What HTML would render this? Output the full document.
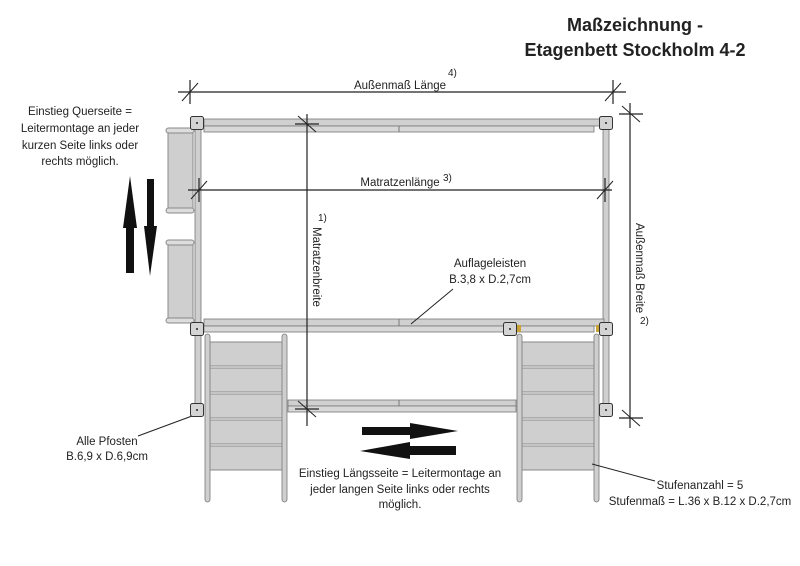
<!DOCTYPE html>
<html><head><meta charset="utf-8"><style>
html,body{margin:0;padding:0;background:#fff;}
svg{display:block;}
text{font-family:"Liberation Sans",sans-serif;fill:#222;}
</style></head><body>
<svg width="800" height="566" viewBox="0 0 800 566" xmlns="http://www.w3.org/2000/svg">
<defs>
<g id="post"><rect x="-6.5" y="-6.5" width="13" height="13" rx="2" fill="#d4d4d4" stroke="#333" stroke-width="1"/><circle cx="0" cy="0" r="1" fill="#222"/></g>
<g id="tick"><line x1="0" y1="-12" x2="0" y2="12" stroke="#222" stroke-width="1.2"/><line x1="-8" y1="9" x2="8" y2="-9" stroke="#222" stroke-width="1"/></g>
<g id="step"><rect x="0" y="0" width="72" height="24" fill="#cfcfcf" stroke="#888" stroke-width="1"/></g>
</defs>
<text x="635" y="31" font-size="18" font-weight="bold" text-anchor="middle">Maßzeichnung -</text>
<text x="635" y="56" font-size="18" font-weight="bold" text-anchor="middle">Etagenbett Stockholm 4-2</text>

<!-- Left info text -->
<g font-size="11.5" text-anchor="middle">
<text x="80" y="115">Einstieg Querseite =</text>
<text x="80" y="132">Leitermontage an jeder</text>
<text x="80" y="149">kurzen Seite links oder</text>
<text x="80" y="165">rechts möglich.</text>
</g>

<!-- vertical arrows -->
<polygon points="126,273 134,273 134,228 137,228 130,176 123,228 126,228" fill="#111"/>
<polygon points="147,179 154,179 154,226 157,226 150,276 144,226 147,226" fill="#111"/>

<!-- short-side ladder panels -->
<rect x="168" y="131" width="25" height="80" fill="#cfcfcf" stroke="#888"/>
<rect x="166" y="128" width="28" height="5" rx="2.5" fill="#ddd" stroke="#888"/>
<rect x="166" y="208" width="28" height="5" rx="2.5" fill="#ddd" stroke="#888"/>
<rect x="168" y="243" width="25" height="78" fill="#cfcfcf" stroke="#888"/>
<rect x="166" y="240" width="28" height="5" rx="2.5" fill="#ddd" stroke="#888"/>
<rect x="166" y="318" width="28" height="5" rx="2.5" fill="#ddd" stroke="#888"/>

<!-- posts verticals -->
<rect x="195" y="122" width="6" height="288" fill="#cfcfcf" stroke="#777" stroke-width="0.8"/>
<rect x="603" y="122" width="6" height="288" fill="#cfcfcf" stroke="#777" stroke-width="0.8"/>

<!-- top rail -->
<rect x="204" y="119" width="400" height="7" fill="#d0d0d0" stroke="#777" stroke-width="0.8"/>
<rect x="204" y="126" width="390" height="6" fill="#d8d8d8" stroke="#777" stroke-width="0.8"/>
<line x1="399" y1="126" x2="399" y2="132" stroke="#777"/>
<!-- middle rail -->
<rect x="204" y="319" width="400" height="7" fill="#d0d0d0" stroke="#777" stroke-width="0.8"/>
<rect x="204" y="326" width="390" height="6" fill="#d8d8d8" stroke="#777" stroke-width="0.8"/>
<line x1="399" y1="319" x2="399" y2="326" stroke="#777"/>
<!-- lower rail -->
<rect x="288" y="400" width="228" height="6" fill="#d0d0d0" stroke="#777" stroke-width="0.8"/>
<rect x="288" y="406" width="228" height="6" fill="#d8d8d8" stroke="#777" stroke-width="0.8"/>
<line x1="399" y1="400" x2="399" y2="406" stroke="#777"/>

<!-- left ladder -->
<rect x="205" y="334" width="5" height="168" rx="2.5" fill="#cfcfcf" stroke="#777" stroke-width="0.8"/>
<rect x="282" y="334" width="5" height="168" rx="2.5" fill="#cfcfcf" stroke="#777" stroke-width="0.8"/>
<use href="#step" x="210" y="342"/><use href="#step" x="210" y="368"/><use href="#step" x="210" y="394"/><use href="#step" x="210" y="420"/><use href="#step" x="210" y="446"/>
<!-- right ladder -->
<rect x="517" y="334" width="5" height="168" rx="2.5" fill="#cfcfcf" stroke="#777" stroke-width="0.8"/>
<rect x="594" y="334" width="5" height="168" rx="2.5" fill="#cfcfcf" stroke="#777" stroke-width="0.8"/>
<use href="#step" x="522" y="342"/><use href="#step" x="522" y="368"/><use href="#step" x="522" y="394"/><use href="#step" x="522" y="420"/><use href="#step" x="522" y="446"/>
<rect x="517" y="325" width="4" height="7" fill="#c9a23a"/><rect x="596" y="325" width="4" height="7" fill="#c9a23a"/>

<!-- post squares -->
<use href="#post" x="197" y="123"/><use href="#post" x="606" y="123"/>
<use href="#post" x="197" y="329"/><use href="#post" x="606" y="329"/><use href="#post" x="510" y="329"/>
<use href="#post" x="197" y="410"/><use href="#post" x="606" y="410"/>

<!-- dimension lines -->
<line x1="178" y1="92" x2="626" y2="92" stroke="#222" stroke-width="1.2"/>
<use href="#tick" x="190" y="92"/><use href="#tick" x="613" y="92"/>
<text x="400" y="89" font-size="11.5" text-anchor="middle">Außenmaß Länge</text>
<text x="448" y="76" font-size="10">4)</text>

<line x1="188" y1="190" x2="612" y2="190" stroke="#222" stroke-width="1.2"/>
<use href="#tick" x="199" y="190"/><use href="#tick" x="605" y="190"/>
<text x="400" y="186" font-size="11.5" text-anchor="middle">Matratzenlänge</text>
<text x="443" y="181" font-size="10">3)</text>

<line x1="307" y1="114" x2="307" y2="426" stroke="#222" stroke-width="1.2"/>
<g transform="translate(307,124) rotate(90)"><use href="#tick"/></g>
<g transform="translate(307,409) rotate(90)"><use href="#tick"/></g>
<text x="0" y="0" font-size="11.5" transform="translate(313,227) rotate(90)">Matratzenbreite</text>
<text x="318" y="221" font-size="10">1)</text>

<line x1="630" y1="103" x2="630" y2="428" stroke="#222" stroke-width="1.2"/>
<g transform="translate(631,114) rotate(90)"><use href="#tick"/></g>
<g transform="translate(631,418) rotate(90)"><use href="#tick"/></g>
<text x="0" y="0" font-size="11.5" transform="translate(636,223) rotate(90)">Außenmaß Breite</text>
<text x="640" y="324" font-size="10">2)</text>

<!-- Auflageleisten -->
<text x="490" y="267" font-size="11.5" text-anchor="middle">Auflageleisten</text>
<text x="490" y="283" font-size="11.5" text-anchor="middle">B.3,8 x D.2,7cm</text>
<line x1="453" y1="289" x2="411" y2="324" stroke="#222"/>

<!-- horizontal arrows -->
<polygon points="362,427 410,427 410,423 458,431 410,439 410,435 362,435" fill="#111"/>
<polygon points="456,446 410,446 410,442 360,451 410,459 410,455 456,455" fill="#111"/>

<g font-size="11.5" text-anchor="middle">
<text x="400" y="477">Einstieg Längsseite = Leitermontage an</text>
<text x="400" y="493">jeder langen Seite links oder rechts</text>
<text x="400" y="508">möglich.</text>
<text x="107" y="445">Alle Pfosten</text>
<text x="107" y="460">B.6,9 x D.6,9cm</text>
<text x="700" y="489">Stufenanzahl = 5</text>
<text x="700" y="505">Stufenmaß = L.36 x B.12 x D.2,7cm</text>
</g>
<line x1="138" y1="436" x2="192" y2="416" stroke="#222"/>
<line x1="592" y1="464" x2="655" y2="481" stroke="#222"/>
</svg>
</body></html>
